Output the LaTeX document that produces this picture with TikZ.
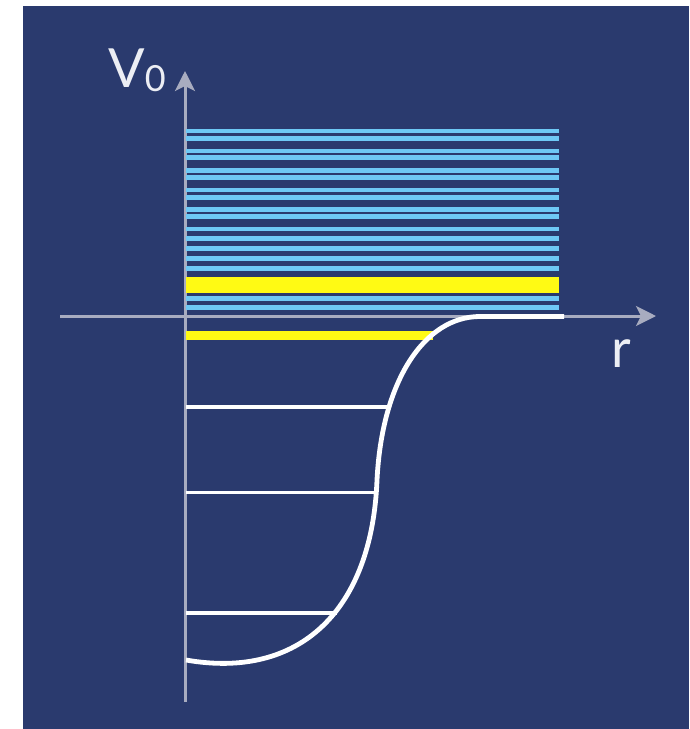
\documentclass[tikz,border=0pt]{standalone}
\usepackage{fontspec}
\setmainfont{Lato}
\usetikzlibrary{arrows.meta}
\definecolor{bgblue}{RGB}{42,58,110}
\definecolor{axisgray}{RGB}{168,172,192}
\definecolor{levelblue}{RGB}{110,200,245}
\definecolor{levelyellow}{RGB}{255,250,20}
\definecolor{txtwhite}{RGB}{236,238,244}
\tikzset{
  axisline/.style={draw=axisgray, line width=3pt, -{Stealth[length=20pt,width=20pt,inset=5pt]}},
  bluelevel/.style={draw=levelblue, line width=4.6pt},
  whitelevel/.style={draw=white, line width=3.6pt},
  wellcurve/.style={draw=white, line width=4.8pt, line cap=butt},
  axlabel/.style={text=txtwhite, font=\fontsize{54}{60}\selectfont, inner sep=0pt, anchor=base west}
}
\begin{document}
\begin{tikzpicture}[x=1pt,y=-1pt]
\useasboundingbox (0,0) rectangle (689,729);
\fill[bgblue] (23,6) rectangle (689,729);
% axes
\coordinate (xs) at (60,316);
\coordinate (xe) at (656,316);
\coordinate (ys) at (185,702);
\coordinate (ye) at (185,71);
\draw[axisline] (xs) -- (xe);
\draw[axisline] (ys) -- (ye);
% labels
\node[axlabel] (V) at (108,87) {V\raisebox{-4pt}{\fontsize{36}{40}\selectfont 0}};
\node[axlabel] (R) at (611,367) {r};
% blue continuum levels
\foreach \y in {131,138.3,151,157.7,170.7,177.3,190,197.3,209.3,216.7,229,238.5,248.5,258.5,268.3,298.3,307.7}{
  \draw[bluelevel] (186,\y) -- (559,\y);
}
% yellow levels
\fill[levelyellow] (186,276.7) rectangle (559,293);
\fill[levelyellow] (186,330.7) rectangle (433,340);
% bound white levels
\draw[whitelevel] (186,407) -- (391,407);
\draw[whitelevel] (186,492.3) -- (375,492.3);
\draw[whitelevel] (186,612.7) -- (337,612.7);
% potential well
\coordinate (w0) at (186,660);
\coordinate (w1) at (377,480);
\coordinate (w2) at (480,316.5);
\coordinate (w3) at (564,316.5);
\draw[wellcurve] (w0) .. controls (300,680) and (372,610) .. (w1)
  .. controls (382,380) and (425,316.5) .. (w2) -- (w3);
\end{tikzpicture}
\end{document}
